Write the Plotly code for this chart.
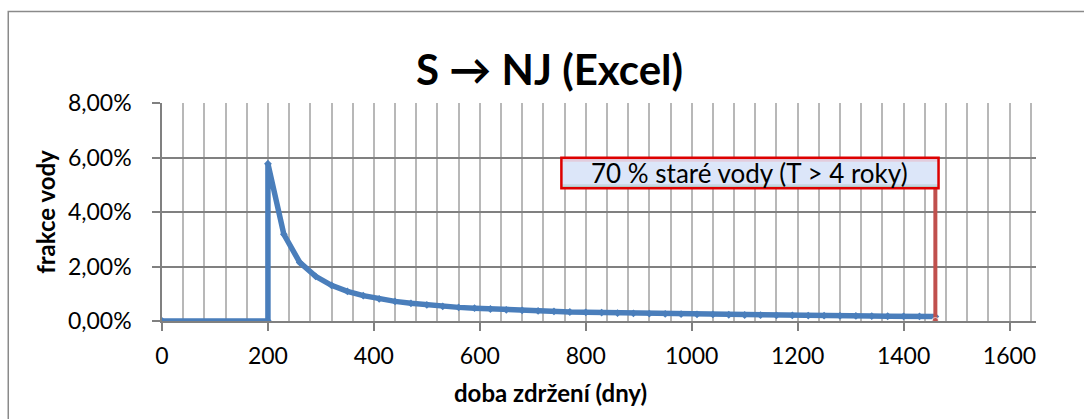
import plotly.graph_objects as go

# ---- data ----
title_text = "S → NJ (Excel)"
x_title = "doba zdržení (dny)"
y_title = "frakce vody"
note_text = "70 % staré vody (T > 4 roky)"

zero_days = [0, 200]
zero_vals = [0.0, 0.0]
decay_days = list(range(200, 1461, 30))
decay_vals = [5.77, 3.18, 2.15, 1.64, 1.31, 1.09, 0.93, 0.81, 0.72, 0.65,
              0.59, 0.54, 0.50, 0.47, 0.44, 0.41, 0.39, 0.37, 0.35, 0.33,
              0.32, 0.31, 0.29, 0.28, 0.27, 0.26, 0.255, 0.245, 0.24, 0.23,
              0.22, 0.215, 0.21, 0.205, 0.20, 0.195, 0.19, 0.185, 0.18, 0.175,
              0.17, 0.167, 0.163]
old_cutoff_day = 1460
box_bottom = 0.0487
box_top = 0.0599
box_left_day = 754
box_right_day = 1466

x_all = zero_days + decay_days
y_all = zero_vals + [v / 100 for v in decay_vals]

BLUE = "#4A7EBB"
RED = "#C0504D"
FONT = "Lato"

fig = go.Figure()
fig.add_trace(go.Scatter(
    x=x_all, y=y_all, mode="lines+markers",
    line=dict(color=BLUE, width=5.5),
    marker=dict(symbol="diamond", size=6, color=BLUE),
    showlegend=False, hoverinfo="skip"))
fig.add_trace(go.Scatter(
    x=[old_cutoff_day, old_cutoff_day], y=[0, box_bottom], mode="lines+markers",
    line=dict(color=RED, width=4),
    marker=dict(size=[7, 0], color=RED),
    showlegend=False, hoverinfo="skip"))

# annotation box with a soft vertical gradient
h = box_top - box_bottom
px = h / 30.0
bands = [
    (box_bottom, box_top, "#DCE6F9"),
    (box_top - 2 * px, box_top, "#E8B7C8"),
    (box_top - 4 * px, box_top - 2 * px, "#E3CCDD"),
    (box_bottom + 2 * px, box_bottom + 4 * px, "#C6D6E2"),
    (box_bottom, box_bottom + 2 * px, "#A9C0B3"),
]
for y0, y1, c in bands:
    fig.add_shape(type="rect", xref="x", yref="y", x0=box_left_day, x1=box_right_day,
                  y0=y0, y1=y1, fillcolor=c, line=dict(width=0), layer="above")
fig.add_shape(type="rect", xref="x", yref="y", x0=box_left_day, x1=box_right_day,
              y0=box_bottom, y1=box_top, fillcolor="rgba(0,0,0,0)",
              line=dict(color="#DD0000", width=2.5), layer="above")
fig.add_annotation(x=(box_left_day + box_right_day) / 2, y=(box_bottom + box_top) / 2,
                   xref="x", yref="y", text=note_text, showarrow=False,
                   font=dict(family=FONT, size=26, color="#000000"))

# x-axis title (centred on the chart, as in Excel)
fig.add_annotation(x=0.444, y=-0.33, xref="paper", yref="paper", text=x_title,
                   showarrow=False, xanchor="center", yanchor="middle",
                   font=dict(family=FONT, size=24, weight="bold", color="#000000"))

# chart-area border
fig.add_shape(type="rect", xref="paper", yref="paper",
              x0=-0.1759, x1=1.08, y0=-0.6, y1=1.420,
              line=dict(color="#8A8A8A", width=1.5), fillcolor="rgba(0,0,0,0)", layer="below")

fig.update_layout(
    width=1084, height=419,
    margin=dict(l=162, r=48, t=103, b=98),
    paper_bgcolor="white", plot_bgcolor="white",
    separators=", ",
    font=dict(family=FONT, size=23, color="#000000"),
    title=dict(text=title_text, x=0.507, xref="container", xanchor="center",
               y=0.833, yref="container", yanchor="middle",
               font=dict(family=FONT, size=42, weight="bold", color="#000000")),
)
fig.update_xaxes(
    range=[0, 1650], dtick=200, tick0=0,
    showgrid=True, gridcolor="#B8B8B8", gridwidth=1.5,
    minor=dict(dtick=40, tick0=0, showgrid=True, gridcolor="#B8B8B8", gridwidth=1.5),
    showline=True, linecolor="#808080", linewidth=1.5,
    ticks="outside", ticklen=8, tickcolor="#808080", tickwidth=1.5,
    ticklabelstandoff=6, zeroline=False,
)
fig.update_yaxes(
    range=[0, 0.08], dtick=0.02, tick0=0, tickformat=".2%",
    showgrid=True, gridcolor="#808080", gridwidth=1.5,
    showline=True, linecolor="#808080", linewidth=1.5,
    ticks="outside", ticklen=8, tickcolor="#808080", tickwidth=1.5,
    ticklabelstandoff=16, zeroline=False,
    title=dict(text=y_title, font=dict(family=FONT, size=24, weight="bold"), standoff=6),
)

fig.write_html("out.html")
